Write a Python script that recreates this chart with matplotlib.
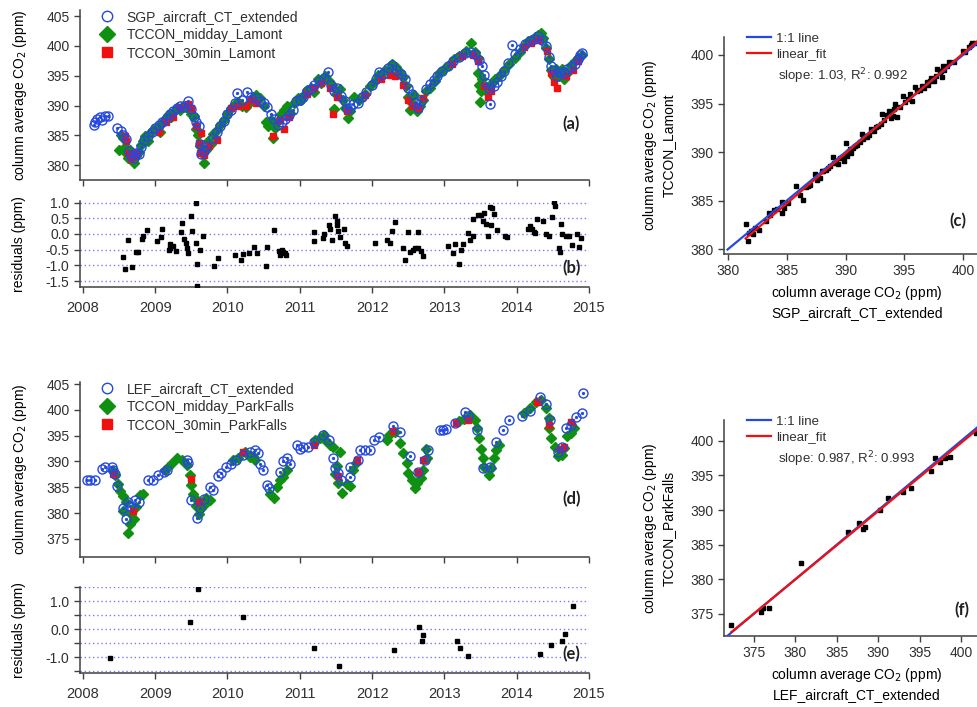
import numpy as np
import matplotlib.pyplot as plt
from matplotlib.lines import Line2D
from matplotlib.ticker import MultipleLocator, FormatStrFormatter

plt.rcParams['font.family'] = ['Liberation Sans', 'DejaVu Sans']
plt.rcParams['font.size'] = 10
plt.rcParams['axes.unicode_minus'] = False
plt.rcParams['text.color'] = '#303030'
plt.rcParams['xtick.color'] = '#404040'
plt.rcParams['ytick.color'] = '#404040'
plt.rcParams['xtick.labelcolor'] = '#303030'
plt.rcParams['ytick.labelcolor'] = '#303030'

# ---- Lamont / SGP (panel a) : (decimal year, XCO2 ppm)
sgp_aircraft = [
    (2008.15, 386.7), (2008.17, 387.2), (2008.20, 387.8), (2008.23, 388.0), (2008.27, 387.6),
    (2008.30, 388.3), (2008.35, 388.2), (2008.47, 386.3), (2008.53, 385.7), (2008.56, 385.0),
    (2008.60, 384.3), (2008.64, 382.4), (2008.67, 381.5), (2008.70, 381.2), (2008.73, 382.0),
    (2008.77, 381.8), (2008.80, 383.0), (2008.85, 384.2), (2008.90, 384.8), (2008.95, 385.5),
    (2009.00, 386.2), (2009.05, 386.8), (2009.10, 387.3), (2009.15, 387.8), (2009.20, 388.5),
    (2009.25, 389.0), (2009.30, 389.5), (2009.35, 390.0), (2009.40, 389.8), (2009.45, 390.8),
    (2009.50, 389.4), (2009.53, 388.0), (2009.57, 387.2), (2009.60, 386.6), (2009.62, 383.5),
    (2009.64, 381.8), (2009.67, 382.4), (2009.70, 383.2), (2009.80, 384.6), (2009.85, 385.5),
    (2009.90, 386.6), (2009.95, 387.4), (2010.00, 388.5), (2010.05, 389.2), (2010.10, 390.5),
    (2010.13, 392.1), (2010.20, 391.0), (2010.27, 392.3), (2010.33, 391.4), (2010.40, 391.3),
    (2010.45, 390.8), (2010.50, 390.5), (2010.55, 389.8), (2010.60, 388.5), (2010.65, 387.8),
    (2010.70, 386.8), (2010.75, 387.2), (2010.80, 387.8), (2010.85, 388.4), (2010.90, 389.2),
    (2010.95, 390.8), (2011.00, 391.0), (2011.05, 391.5), (2011.10, 392.4), (2011.15, 392.8),
    (2011.20, 393.5), (2011.27, 394.2), (2011.33, 394.6), (2011.39, 395.6), (2011.43, 393.5),
    (2011.47, 392.5), (2011.52, 393.0), (2011.57, 391.6), (2011.62, 390.8), (2011.65, 389.5),
    (2011.70, 389.6), (2011.73, 390.2), (2011.80, 390.4), (2011.86, 391.5), (2011.92, 392.2),
    (2012.00, 393.5), (2012.05, 394.4), (2012.10, 395.6), (2012.15, 395.3), (2012.22, 396.3),
    (2012.28, 396.8), (2012.33, 396.0), (2012.40, 395.3), (2012.45, 394.4), (2012.50, 393.0),
    (2012.55, 391.9), (2012.60, 390.5), (2012.63, 389.6), (2012.68, 390.8), (2012.75, 392.8),
    (2012.80, 393.6), (2012.85, 394.3), (2012.90, 394.9), (2012.97, 395.8), (2013.05, 396.7),
    (2013.12, 397.4), (2013.20, 398.1), (2013.28, 398.8), (2013.35, 399.0), (2013.42, 398.6),
    (2013.48, 397.6), (2013.52, 396.6), (2013.55, 395.2), (2013.58, 393.8), (2013.62, 392.8),
    (2013.63, 390.2), (2013.68, 393.2), (2013.73, 394.0), (2013.78, 394.9), (2013.83, 395.8),
    (2013.88, 397.2), (2013.93, 400.2), (2013.98, 398.6), (2014.05, 399.5), (2014.12, 400.3),
    (2014.18, 400.8), (2014.24, 401.2), (2014.30, 401.6), (2014.35, 401.0), (2014.40, 400.0),
    (2014.44, 398.2), (2014.48, 396.6), (2014.52, 396.0), (2014.56, 395.0), (2014.60, 395.6),
    (2014.65, 395.5), (2014.70, 396.2), (2014.75, 396.4), (2014.80, 397.0), (2014.85, 397.8),
    (2014.88, 398.5), (2014.90, 398.8),
]
lamont_midday = [
    (2008.50, 382.6), (2008.53, 385.0), (2008.56, 384.5), (2008.58, 383.0), (2008.60, 382.0),
    (2008.63, 381.2), (2008.65, 382.5), (2008.68, 380.8), (2008.71, 380.3), (2008.74, 381.5),
    (2008.77, 382.2), (2008.80, 383.4), (2008.83, 384.0), (2008.86, 384.8), (2008.90, 384.0),
    (2008.93, 385.4), (2008.97, 385.8), (2009.02, 386.2), (2009.06, 385.5), (2009.10, 387.0),
    (2009.14, 387.6), (2009.18, 388.4), (2009.22, 388.0), (2009.26, 389.0), (2009.30, 389.6),
    (2009.34, 389.3), (2009.38, 390.0), (2009.42, 389.8), (2009.46, 389.5), (2009.50, 388.6),
    (2009.53, 388.3), (2009.56, 386.0), (2009.59, 385.0), (2009.62, 383.2), (2009.65, 382.0),
    (2009.67, 380.3), (2009.70, 382.5), (2009.73, 384.0), (2009.77, 383.5), (2009.80, 385.2),
    (2009.85, 385.8), (2009.90, 386.8), (2009.95, 387.6), (2010.00, 388.6), (2010.05, 389.5),
    (2010.10, 390.2), (2010.15, 390.6), (2010.20, 390.0), (2010.25, 389.8), (2010.30, 390.4),
    (2010.35, 391.5), (2010.40, 391.8), (2010.45, 391.2), (2010.50, 390.0), (2010.53, 387.2),
    (2010.56, 386.6), (2010.60, 387.6), (2010.63, 384.5), (2010.66, 386.2), (2010.70, 387.4),
    (2010.74, 388.6), (2010.78, 389.2), (2010.82, 390.0), (2010.87, 388.8), (2010.92, 390.4),
    (2010.97, 391.2), (2011.02, 390.9), (2011.06, 391.8), (2011.10, 392.6), (2011.15, 393.0),
    (2011.20, 392.2), (2011.25, 394.4), (2011.30, 393.8), (2011.35, 395.0), (2011.40, 394.2),
    (2011.45, 393.5), (2011.47, 389.4), (2011.50, 392.0), (2011.55, 392.8), (2011.60, 391.0),
    (2011.63, 389.6), (2011.67, 387.9), (2011.70, 389.0), (2011.75, 391.5), (2011.82, 391.0),
    (2011.90, 392.0), (2011.97, 393.2), (2012.03, 394.0), (2012.08, 395.2), (2012.13, 394.8),
    (2012.18, 396.0), (2012.23, 395.6), (2012.28, 397.0), (2012.33, 396.5), (2012.38, 395.6),
    (2012.43, 394.8), (2012.47, 393.2), (2012.50, 391.5), (2012.52, 389.2), (2012.55, 390.5),
    (2012.58, 391.8), (2012.62, 389.0), (2012.66, 390.0), (2012.70, 391.0), (2012.75, 392.4),
    (2012.80, 393.0), (2012.87, 394.2), (2012.93, 395.4), (2013.00, 396.2), (2013.07, 396.8),
    (2013.13, 397.8), (2013.20, 398.4), (2013.25, 398.5), (2013.30, 399.2), (2013.37, 400.5),
    (2013.42, 399.0), (2013.46, 398.0), (2013.47, 395.5), (2013.48, 393.5), (2013.49, 390.6),
    (2013.50, 392.5), (2013.52, 394.5), (2013.55, 393.0), (2013.58, 392.4), (2013.62, 393.0),
    (2013.66, 393.8), (2013.70, 394.4), (2013.75, 395.0), (2013.82, 396.0), (2013.90, 397.0),
    (2013.97, 398.0), (2014.05, 399.0), (2014.10, 400.0), (2014.15, 400.8), (2014.20, 401.0),
    (2014.25, 401.5), (2014.30, 401.8), (2014.33, 402.2), (2014.37, 401.4), (2014.41, 399.6),
    (2014.45, 397.8), (2014.48, 396.0), (2014.52, 394.8), (2014.55, 396.2), (2014.58, 395.0),
    (2014.62, 396.2), (2014.66, 394.5), (2014.70, 395.4), (2014.75, 396.8), (2014.80, 397.4),
    (2014.85, 398.0), (2014.90, 398.5),
]
lamont_30min = [
    (2008.58, 384.8), (2008.60, 384.0), (2008.63, 382.0), (2008.67, 381.0), (2008.70, 381.5),
    (2008.75, 382.0), (2009.05, 385.5), (2009.15, 387.2), (2009.25, 388.0), (2009.35, 389.5),
    (2009.45, 390.2), (2009.50, 389.5), (2009.57, 386.5), (2009.60, 383.7), (2009.62, 382.0),
    (2009.64, 385.3), (2009.68, 381.7), (2009.75, 383.2), (2009.85, 384.2), (2010.05, 389.5),
    (2010.15, 390.0), (2010.25, 390.0), (2010.32, 391.0), (2010.40, 390.5), (2010.63, 384.8),
    (2010.72, 387.6), (2010.78, 386.0), (2010.85, 388.0), (2011.10, 392.0), (2011.20, 393.0),
    (2011.30, 393.7), (2011.42, 393.0), (2011.46, 388.6), (2011.52, 391.5), (2011.65, 389.0),
    (2011.90, 391.8), (2012.12, 394.5), (2012.25, 395.2), (2012.32, 395.0), (2012.43, 393.5),
    (2012.50, 391.0), (2012.55, 390.0), (2012.64, 389.5), (2012.70, 391.2), (2013.10, 397.0),
    (2013.25, 398.3), (2013.40, 398.5), (2013.47, 397.5), (2013.55, 393.2), (2013.60, 391.4),
    (2013.65, 392.4), (2014.10, 399.8), (2014.20, 400.5), (2014.30, 401.0), (2014.42, 399.2),
    (2014.48, 395.5), (2014.52, 394.0), (2014.56, 392.9), (2014.68, 395.0), (2014.78, 396.0),
    (2014.85, 397.5),
]
# residuals (panel b)
lamont_resid = [
    (2008.56, -0.74), (2008.58, -1.13), (2008.62, -0.19), (2008.68, -1.04), (2008.74, -0.56),
    (2008.76, -0.58), (2008.82, -0.17), (2008.83, -0.07), (2008.88, 0.13), (2009.02, -0.22),
    (2009.08, -0.09), (2009.10, 0.15), (2009.19, -0.50), (2009.20, -0.32), (2009.21, -0.44),
    (2009.25, -0.37), (2009.29, -0.53), (2009.36, 0.05), (2009.37, 0.35), (2009.40, -0.16),
    (2009.42, -0.29), (2009.44, -0.45), (2009.45, -0.60), (2009.49, 0.57), (2009.51, 0.09),
    (2009.56, -0.29), (2009.57, 1.00), (2009.58, -0.96), (2009.585, -1.65), (2009.62, -0.50),
    (2009.66, -0.06), (2009.82, -1.02), (2009.87, -0.77), (2010.11, -0.66), (2010.19, -0.83),
    (2010.22, -0.64), (2010.30, -0.61), (2010.37, -0.42), (2010.41, -0.61), (2010.53, -1.02),
    (2010.55, -0.42), (2010.64, 0.13), (2010.71, -0.53), (2010.73, -0.66), (2010.75, -0.50),
    (2010.77, -0.58), (2010.79, -0.62), (2010.81, -0.66), (2011.19, 0.05), (2011.20, -0.22),
    (2011.32, -0.13), (2011.34, 0.00), (2011.41, 0.29), (2011.42, 0.15), (2011.44, -0.19),
    (2011.49, 0.56), (2011.51, 0.40), (2011.52, 0.29), (2011.53, 0.10), (2011.55, -0.09),
    (2011.61, 0.16), (2011.62, -0.28), (2011.65, -0.38), (2012.04, -0.28), (2012.21, -0.19),
    (2012.25, -0.28), (2012.27, 0.08), (2012.31, 0.37), (2012.43, -0.44), (2012.45, -0.84),
    (2012.49, 0.05), (2012.52, -0.57), (2012.56, -0.51), (2012.60, -0.46), (2012.63, 0.05),
    (2012.64, -0.46), (2012.67, -0.55), (2012.71, -0.71), (2013.05, -0.38), (2013.12, -0.62),
    (2013.14, -0.32), (2013.20, -0.96), (2013.23, -0.51), (2013.26, -0.33), (2013.33, 0.04),
    (2013.36, -0.19), (2013.39, -0.06), (2013.40, 0.48), (2013.46, 0.61), (2013.50, 0.61),
    (2013.53, 0.40), (2013.55, 0.68), (2013.57, 0.33), (2013.60, -0.05), (2013.63, 0.86),
    (2013.65, 0.29), (2013.66, 0.84), (2013.69, 0.63), (2013.73, 0.12), (2013.84, -0.06),
    (2013.86, -0.09), (2014.16, 0.15), (2014.18, 0.25), (2014.21, 0.16), (2014.24, 0.07),
    (2014.26, 0.02), (2014.28, 0.48), (2014.37, 0.42), (2014.41, 0.01), (2014.44, -0.07),
    (2014.49, 0.53), (2014.51, 1.02), (2014.53, 0.90), (2014.59, -0.46), (2014.60, -0.57),
    (2014.61, 0.33), (2014.62, 0.01), (2014.68, -0.05), (2014.73, -0.05), (2014.76, -0.34),
    (2014.83, 0.01), (2014.86, -0.40), (2014.89, -0.13),
]

# ---- Park Falls / LEF (panel d)
lef_aircraft = [
    (2008.05, 386.5), (2008.10, 386.5), (2008.17, 386.5), (2008.26, 388.5), (2008.30, 389.0),
    (2008.40, 388.9), (2008.42, 388.4), (2008.44, 387.5), (2008.47, 385.3), (2008.56, 381.0),
    (2008.60, 378.9), (2008.63, 382.2), (2008.65, 381.4), (2008.72, 382.5), (2008.77, 382.2),
    (2008.90, 386.4), (2008.97, 386.4), (2009.04, 387.4), (2009.12, 388.0), (2009.16, 388.4),
    (2009.44, 390.3), (2009.46, 389.7), (2009.50, 382.6), (2009.58, 379.1), (2009.62, 381.0),
    (2009.67, 382.7), (2009.76, 385.1), (2009.80, 384.5), (2009.87, 387.1), (2009.91, 387.7),
    (2009.98, 389.0), (2010.05, 389.6), (2010.12, 390.3), (2010.22, 391.3), (2010.31, 391.9),
    (2010.38, 392.3), (2010.42, 391.6), (2010.45, 389.6), (2010.49, 388.4), (2010.54, 385.4),
    (2010.58, 384.8), (2010.72, 388.0), (2010.77, 390.0), (2010.82, 390.6), (2010.86, 389.6),
    (2010.96, 393.2), (2011.00, 392.5), (2011.05, 392.8), (2011.11, 392.8), (2011.20, 393.8),
    (2011.32, 395.1), (2011.40, 394.2), (2011.46, 390.7), (2011.49, 388.8), (2011.53, 387.8),
    (2011.57, 386.4), (2011.69, 387.0), (2011.70, 389.0), (2011.80, 390.3), (2011.83, 392.2),
    (2011.90, 392.3), (2011.97, 392.3), (2012.02, 394.2), (2012.09, 394.8), (2012.29, 396.9),
    (2012.38, 395.8), (2012.52, 391.0), (2012.63, 388.0), (2012.73, 390.3), (2012.78, 392.3),
    (2012.94, 396.1), (2012.98, 396.1), (2013.02, 396.3), (2013.15, 397.4), (2013.29, 399.6),
    (2013.33, 398.9), (2013.45, 396.1), (2013.54, 388.7), (2013.63, 389.0), (2013.72, 393.8),
    (2013.81, 396.1), (2013.90, 398.0), (2014.07, 398.9), (2014.18, 399.8), (2014.32, 402.5),
    (2014.41, 401.2), (2014.46, 398.0), (2014.57, 391.9), (2014.62, 392.9), (2014.68, 396.4),
    (2014.75, 397.0), (2014.82, 398.6), (2014.90, 399.3), (2014.92, 403.3),
]
parkfalls_midday = [
    (2008.42, 388.2), (2008.44, 387.3), (2008.48, 385.6), (2008.52, 384.3), (2008.55, 383.3),
    (2008.56, 380.4), (2008.60, 382.1), (2008.62, 376.2), (2008.65, 377.9), (2008.66, 379.9),
    (2008.70, 378.9), (2008.74, 381.2), (2008.79, 383.5), (2008.83, 383.8), (2009.13, 388.3),
    (2009.18, 389.0), (2009.23, 389.7), (2009.30, 390.6), (2009.37, 390.3), (2009.44, 389.3),
    (2009.48, 387.3), (2009.50, 385.5), (2009.52, 383.8), (2009.55, 382.9), (2009.57, 381.3),
    (2009.60, 379.9), (2009.64, 380.9), (2009.68, 381.5), (2009.70, 382.9), (2009.76, 382.6),
    (2010.08, 390.3), (2010.15, 390.6), (2010.24, 391.9), (2010.31, 390.9), (2010.35, 391.0),
    (2010.38, 390.3), (2010.59, 383.8), (2010.65, 382.9), (2010.68, 385.1), (2010.72, 386.4),
    (2010.77, 387.0), (2010.82, 388.3), (2011.21, 394.2), (2011.28, 394.5), (2011.33, 395.2),
    (2011.35, 394.2), (2011.42, 393.2), (2011.46, 392.8), (2011.49, 387.5), (2011.51, 389.1),
    (2011.53, 385.9), (2011.56, 391.9), (2011.58, 383.9), (2011.65, 385.6), (2011.69, 385.2),
    (2011.74, 388.4), (2011.78, 389.7), (2012.20, 394.2), (2012.24, 395.2), (2012.31, 395.8),
    (2012.38, 393.6), (2012.43, 391.6), (2012.48, 389.7), (2012.50, 387.8), (2012.55, 386.5),
    (2012.60, 384.9), (2012.62, 385.9), (2012.67, 386.8), (2012.71, 388.4), (2012.75, 392.5),
    (2012.76, 390.6), (2013.20, 397.8), (2013.27, 398.3), (2013.36, 399.0), (2013.43, 398.0),
    (2013.45, 396.4), (2013.48, 394.5), (2013.50, 392.5), (2013.53, 390.6), (2013.55, 389.0),
    (2013.62, 387.4), (2013.64, 388.7), (2013.69, 390.6), (2013.71, 392.2), (2013.76, 393.2),
    (2014.10, 399.4), (2014.18, 400.3), (2014.27, 401.6), (2014.34, 401.9), (2014.41, 400.3),
    (2014.44, 398.4), (2014.45, 396.4), (2014.48, 394.5), (2014.53, 392.9), (2014.57, 391.0),
    (2014.62, 391.3), (2014.66, 392.6), (2014.70, 394.9), (2014.75, 395.5), (2014.79, 396.4),
]
parkfalls_30min = [
    (2008.42, 387.5), (2008.69, 380.4), (2009.50, 386.6), (2009.60, 382.1), (2010.21, 391.8),
    (2011.20, 393.1), (2011.53, 387.2), (2011.79, 390.3), (2012.29, 396.0), (2012.63, 388.0),
    (2012.71, 390.2), (2013.16, 397.4), (2013.32, 398.0), (2014.28, 401.5), (2014.44, 397.0),
    (2014.60, 392.4), (2014.65, 392.8), (2014.75, 397.7),
]
# residuals (panel e)
parkfalls_resid = [
    (2008.37, -1.05), (2009.48, 0.26), (2009.59, 1.43), (2010.22, 0.43), (2011.20, -0.67),
    (2011.54, -1.33), (2012.30, -0.74), (2012.65, 0.06), (2012.69, -0.43), (2012.71, -0.22),
    (2013.17, -0.44), (2013.21, -0.67), (2013.33, -0.96), (2014.32, -0.88), (2014.48, -0.56),
    (2014.63, -0.42), (2014.67, -0.16), (2014.78, 0.82),
]

# ---- scatter comparisons (aircraft x, TCCON y)
lamont_scatter = [
    (381.5, 382.6), (381.7, 380.8), (381.8, 381.7), (382.0, 381.9), (382.1, 381.6),
    (382.3, 382.2), (382.6, 382.0), (383.2, 382.9), (383.5, 383.7), (383.6, 383.5),
    (383.9, 384.0), (384.2, 384.1), (384.6, 384.9), (384.6, 383.7), (384.8, 384.2),
    (385.1, 384.8), (385.8, 386.5), (386.1, 385.6), (386.4, 385.1), (386.6, 386.4),
    (386.8, 386.5), (387.0, 386.6), (387.4, 387.7), (387.6, 387.1), (387.8, 387.3),
    (388.0, 388.0), (388.1, 388.1), (388.3, 388.2), (388.5, 388.4), (388.7, 388.6),
    (388.9, 389.5), (389.0, 388.9), (389.2, 389.1), (389.4, 388.8), (389.5, 389.4),
    (389.7, 389.5), (389.9, 389.1), (390.0, 390.9), (390.1, 389.6), (390.2, 390.0),
    (390.4, 390.3), (390.5, 389.9), (390.6, 390.4), (390.8, 390.6), (391.0, 390.7),
    (391.2, 391.0), (391.4, 391.9), (391.5, 391.3), (391.7, 391.7), (391.8, 391.5),
    (392.0, 391.8), (392.2, 392.4), (392.4, 392.2), (392.6, 392.6), (392.8, 392.7),
    (393.0, 392.9), (393.1, 393.9), (393.3, 393.3), (393.5, 393.8), (393.7, 394.2),
    (393.9, 393.5), (394.0, 393.7), (394.1, 394.4), (394.2, 394.9), (394.4, 393.6),
    (394.6, 394.6), (394.9, 395.8), (395.1, 395.2), (395.3, 395.5), (395.5, 396.0),
    (395.7, 395.3), (395.9, 396.7), (396.1, 396.3), (396.3, 396.4), (396.5, 396.8),
    (396.7, 396.6), (396.9, 397.2), (397.0, 396.9), (397.2, 397.3), (397.3, 397.6),
    (397.5, 397.3), (397.7, 397.8), (397.8, 398.6), (398.0, 398.2), (398.1, 398.3),
    (398.2, 397.7), (398.3, 398.9), (398.4, 398.5), (398.6, 398.9), (398.8, 399.3),
    (399.2, 399.3), (400.0, 400.4), (400.2, 400.3), (400.5, 400.8), (400.7, 401.0),
    (400.8, 401.2), (401.0, 401.2),
]
parkfalls_scatter = [
    (372.3, 373.4), (375.9, 375.3), (376.1, 375.9), (376.8, 375.9), (380.7, 382.3),
    (386.3, 386.8), (387.7, 388.1), (388.2, 387.3), (388.4, 387.6), (390.2, 390.0),
    (391.2, 391.8), (393.0, 392.6), (393.9, 393.2), (396.3, 395.7), (396.8, 397.5),
    (397.4, 397.0), (398.0, 397.5), (398.6, 397.7), (401.8, 401.1),
]
lamont_fit = (1.03, -11.845, 0.992)      # slope, intercept, R^2
parkfalls_fit = (0.987, 4.913, 0.993)

BLUE = '#2448e0'
GREEN = '#109010'
RED = '#f01010'
AXC = '#404040'
W, H = 977, 707


def box(l, t, r, b):
    return [l / W, 1 - b / H, (r - l) / W, (b - t) / H]


def style(ax):
    for s in ['top', 'right']:
        ax.spines[s].set_visible(False)
    for s in ['left', 'bottom']:
        ax.spines[s].set_color(AXC)
        ax.spines[s].set_linewidth(1.1)
    ax.tick_params(which='both', direction='out', length=4, width=1.0, labelsize=10)


def timeseries(ax, aircraft, midday, min30, ylim, labels, tag):
    style(ax)
    t, v = np.array(midday).T
    ax.plot(t, v, 'D', color=GREEN, ms=5.5, mec=GREEN, zorder=1)
    t, v = np.array(min30).T
    ax.plot(t, v, 's', color=RED, ms=5, zorder=2)
    t, v = np.array(aircraft).T
    ax.plot(t, v, 'o', mfc='none', mec=BLUE, mew=1.0, ms=6.5, zorder=3)
    ax.plot(t, v, 'o', color=BLUE, ms=1.3, zorder=3)
    ax.set_xlim(2007.96, 2015.0)
    ax.set_ylim(*ylim)
    ax.xaxis.set_major_locator(MultipleLocator(1))
    ax.yaxis.set_major_locator(MultipleLocator(5))
    ax.tick_params(labelbottom=False)
    ax.set_ylabel('column average CO$_2$ (ppm)', fontsize=10)
    ax.yaxis.set_label_coords(-0.1, 0.5)
    handles = [
        Line2D([], [], ls='none', marker='o', mfc='none', mec=BLUE, mew=1.0, ms=7.5),
        Line2D([], [], ls='none', marker='D', color=GREEN, ms=8),
        Line2D([], [], ls='none', marker='s', color=RED, ms=7),
    ]
    ax.legend(handles, labels, loc='upper left', frameon=False, handlelength=1.0,
              handletextpad=0.9, labelspacing=0.28, borderpad=0, borderaxespad=0,
              bbox_to_anchor=(0.04, 1.0), fontsize=10)
    ax.text(0.965, 0.33, tag, transform=ax.transAxes, ha='center', va='center',
            fontsize=12, fontweight='bold', family='Lato', color='#202020')


def residuals(ax, resid, ylim, major, tag):
    style(ax)
    t, v = np.array(resid).T
    ax.plot(t, v, 's', color='black', ms=3.5, zorder=3)
    ax.set_xlim(2007.96, 2015.0)
    ax.set_ylim(*ylim)
    ax.xaxis.set_major_locator(MultipleLocator(1))
    ax.xaxis.set_major_formatter(FormatStrFormatter('%d'))
    ax.yaxis.set_major_locator(MultipleLocator(major))
    ax.yaxis.set_minor_locator(MultipleLocator(0.5))
    ax.yaxis.set_major_formatter(FormatStrFormatter('%.1f'))
    ax.grid(axis='y', which='both', color='#7878ff', ls=(0, (1, 2)), lw=1.0)
    ax.set_ylabel('residuals (ppm)', fontsize=10)
    ax.yaxis.set_label_coords(-0.106, 0.5)
    ax.tick_params(axis='x', labelsize=10.5, pad=6)
    ax.text(0.965, 0.22, tag, transform=ax.transAxes, ha='center', va='center',
            fontsize=12, fontweight='bold', family='Lato', color='#202020')


def scatter(ax, pts, fit, xlim, ylim, ylabel2, xlabel2, tag, tagpos):
    style(ax)
    x, y = np.array(pts).T
    slope, icpt, r2 = fit
    ax.plot(x, y, 's', color='black', ms=3, zorder=2)
    lx = np.array([xlim[0] + 0.3, xlim[1] + 1])
    ax.plot(lx, lx, color=BLUE, lw=1.6, zorder=3, label='1:1 line')
    fx = np.array([x.min(), xlim[1] + 1])
    ax.plot(fx, slope * fx + icpt, color=RED, lw=1.6, zorder=4, label='linear_fit')
    ax.set_xlim(*xlim)
    ax.set_ylim(*ylim)
    ax.xaxis.set_major_locator(MultipleLocator(5))
    ax.yaxis.set_major_locator(MultipleLocator(5))
    ax.set_xlabel('column average CO$_2$ (ppm)\n' + xlabel2, fontsize=10, linespacing=1.3)
    ax.xaxis.set_label_coords(0.526, -0.14)
    ax.set_ylabel('column average CO$_2$ (ppm)\n' + ylabel2, fontsize=10, linespacing=1.3)
    ax.yaxis.set_label_coords(-0.19, 0.5)
    ax.legend(loc='upper left', frameon=False, handlelength=1.8, handletextpad=0.45,
              labelspacing=0.25, borderpad=0, borderaxespad=0,
              bbox_to_anchor=(0.09, 1.02), fontsize=9.5)
    ax.text(0.215, 0.82, 'slope: %g, R$^2$: %g' % (slope, r2), transform=ax.transAxes,
            ha='left', va='center', fontsize=9.5)
    ax.text(tagpos[0], tagpos[1], tag, transform=ax.transAxes, ha='center', va='center',
            fontsize=12, fontweight='bold', family='Lato', color='#202020')


fig = plt.figure(figsize=(W / 100, H / 100), dpi=100)

ax_a = fig.add_axes(box(80, 10, 589, 180))
timeseries(ax_a, sgp_aircraft, lamont_midday, lamont_30min, (377.48, 406.05),
           ['SGP_aircraft_CT_extended', 'TCCON_midday_Lamont', 'TCCON_30min_Lamont'], '(a)')
ax_b = fig.add_axes(box(80, 201, 589, 287))
residuals(ax_b, lamont_resid, (-1.69, 1.05), 0.5, '(b)')

ax_d = fig.add_axes(box(80, 382, 589, 557))
timeseries(ax_d, lef_aircraft, parkfalls_midday, parkfalls_30min, (371.5, 405.4),
           ['LEF_aircraft_CT_extended', 'TCCON_midday_ParkFalls', 'TCCON_30min_ParkFalls'], '(d)')
ax_e = fig.add_axes(box(80, 587, 589, 673))
residuals(ax_e, parkfalls_resid, (-1.57, 1.51), 1.0, '(e)')

ax_c = fig.add_axes(box(724, 37, 977, 254))
scatter(ax_c, lamont_scatter, lamont_fit, (379.66, 401.19), (379.5, 401.85),
        'TCCON_Lamont', 'SGP_aircraft_CT_extended', '(c)', (0.925, 0.152))
ax_f = fig.add_axes(box(724, 420, 977, 636))
scatter(ax_f, parkfalls_scatter, parkfalls_fit, (371.4, 401.9), (371.8, 403.0),
        'TCCON_ParkFalls', 'LEF_aircraft_CT_extended', '(f)', (0.94, 0.12))

fig.savefig('out.png', dpi=100)
